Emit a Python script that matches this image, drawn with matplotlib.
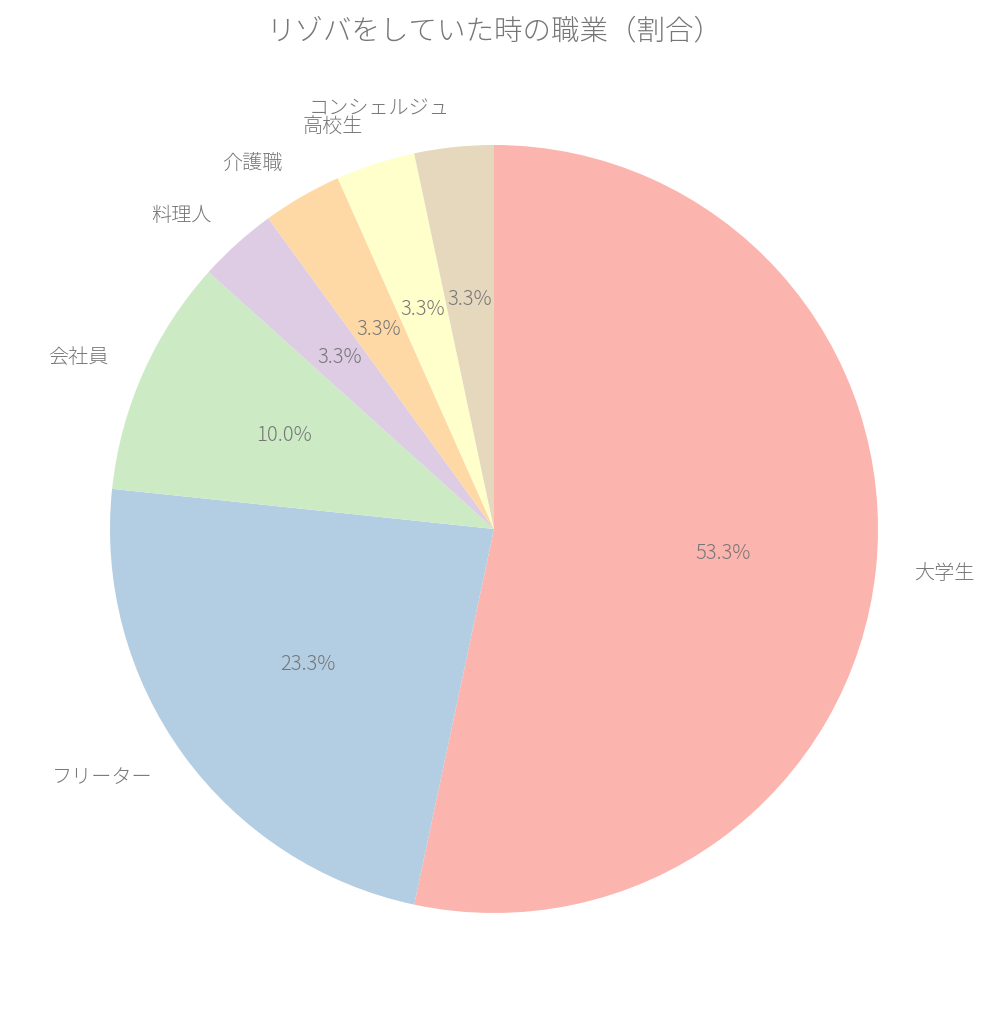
import matplotlib
matplotlib.use("Agg")
import matplotlib.pyplot as plt

plt.rcParams["font.family"] = ["Noto Sans CJK JP", "DejaVu Sans"]

labels = ["大学生", "フリーター", "会社員", "料理人", "介護職", "高校生", "コンシェルジュ"]
counts = [16, 7, 3, 1, 1, 1, 1]
colors = ["#fbb4ae", "#b3cde3", "#ccebc5", "#decbe4", "#fed9a6", "#ffffcc", "#e5d8bd"]
TEXT_COLOR = "#767676"

fig = plt.figure(figsize=(9.9, 10.24), dpi=100)
ax = fig.add_axes([14 / 990, 15 / 1024, 960 / 990, 960 / 1024])
wedges, texts, autotexts = ax.pie(
    counts,
    labels=labels,
    colors=colors,
    autopct="%1.1f%%",
    startangle=90,
    counterclock=False,
    textprops={"fontsize": 14.5, "color": TEXT_COLOR, "fontweight": "light"},
)
ax.set_xlim(-1.25, 1.25)
ax.set_ylim(-1.25, 1.25)
ax.set_aspect("equal")
ax.set_title("リゾバをしていた時の職業（割合）", fontsize=20.5, color=TEXT_COLOR,
             fontweight="light", pad=7)
fig.savefig("out.png")
